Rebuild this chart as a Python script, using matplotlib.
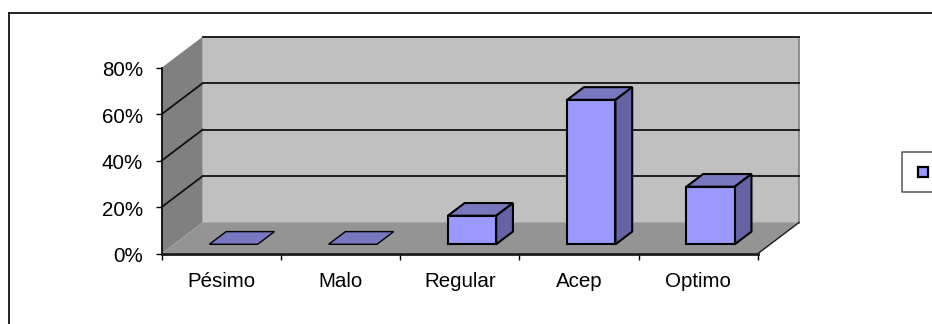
import matplotlib
matplotlib.use("Agg")
import matplotlib.pyplot as plt
from matplotlib.lines import Line2D
from matplotlib.patches import Polygon, Rectangle
from matplotlib.ticker import PercentFormatter
from matplotlib.transforms import ScaledTranslation

plt.rcParams["font.family"] = ["Liberation Sans", "DejaVu Sans"]

# Survey results
categories = ["Pésimo", "Malo", "Regular", "Acep", "Optimo"]
values = [0, 0, 12.3, 62.2, 24.8]
y_ticks = [0, 20, 40, 60, 80]

W, H = 932, 324
fig = plt.figure(figsize=(W / 100, H / 100), dpi=100, facecolor="white")
ax = fig.add_axes([161.7 / W, 1 - 253.5 / H, 596.3 / W, 185.8 / H])
ax.set_xlim(0, len(categories))
ax.set_ylim(0, 80)
ax.patch.set_visible(False)

# Oblique projection: depth 0 is the front plane, depth 1 the back wall
DEPTH_X = 41 / (596.3 / 5)
DEPTH_Y = 31 / (185.8 / 80)


def pt(x, y, d=0.0):
    return (x + d * DEPTH_X, y + d * DEPTH_Y)


def face(points, color, edge="none", lw=0.0, z=1):
    ax.add_patch(Polygon([pt(*p) for p in points], closed=True, facecolor=color,
                         edgecolor=edge, linewidth=lw, clip_on=False, zorder=z,
                         joinstyle="miter"))


n = len(categories)
top = y_ticks[-1]

# walls and floor
face([(0, 0, 1), (n, 0, 1), (n, top, 1), (0, top, 1)], "#c0c0c0", z=1)
face([(0, 0, 0), (0, 0, 1), (0, top, 1), (0, top, 0)], "#808080", z=1)
face([(0, 0, 0), (n, 0, 0), (n, 0, 1), (0, 0, 1)], "#949494", z=1)
ax.plot(*zip(pt(n, 0, 1), pt(n, top, 1)), color="#808080", lw=1.2, clip_on=False, zorder=2)
ax.plot(*zip(pt(n, 0, 0), pt(n, 0, 1)), color="#1a1a1a", lw=1.0, clip_on=False, zorder=2)

# gridlines on the back wall and side wall
for v in y_ticks[1:]:
    ax.plot(*zip(pt(n, v, 1), pt(0, v, 1)), color="#111111", lw=1.3, clip_on=False, zorder=2)
    if v != top:
        ax.plot(*zip(pt(0, v, 1), pt(0, v, 0)), color="#111111", lw=1.3, clip_on=False, zorder=2)

# bars
BAR_W = 0.405
D0, D1 = 0.297, 0.706
for i, v in enumerate(values):
    x0 = i + 0.5 - BAR_W / 2
    x1 = x0 + BAR_W
    lw = 1.5 if v > 0 else 1.0
    face([(x0, v, D0), (x1, v, D0), (x1, v, D1), (x0, v, D1)], "#7878c0", "black", lw, 3)
    if v > 0:
        face([(x1, 0, D0), (x1, 0, D1), (x1, v, D1), (x1, v, D0)], "#6363a5", "black", lw, 3)
        face([(x0, 0, D0), (x1, 0, D0), (x1, v, D0), (x0, v, D0)], "#9999ff", "black", lw, 4)

# axes
for side in ["top", "right"]:
    ax.spines[side].set_visible(False)
ax.spines["left"].set_linewidth(1.2)
ax.spines["left"].set_zorder(5)
ax.spines["bottom"].set_linewidth(2.0)
ax.spines["bottom"].set_color("#1a1a1a")
ax.spines["bottom"].set_zorder(5)

ax.set_yticks(y_ticks)
ax.yaxis.set_major_formatter(PercentFormatter(decimals=0))
ax.tick_params(axis="y", length=4.5, width=1.0, pad=9, labelsize=14.8, labelcolor="black")
# nudge the percent labels down a little from their ticks
nudge = ScaledTranslation(0, -1 / 100, fig.dpi_scale_trans)
for label in ax.get_yticklabels():
    label.set_transform(label.get_transform() + nudge)
ax.set_xticks(range(n + 1))
ax.set_xticklabels([])
ax.tick_params(axis="x", which="major", length=4.5, width=1.0)
ax.set_xticks([i + 0.5 for i in range(n)], minor=True)
ax.set_xticklabels(categories, minor=True, fontsize=14.8)
ax.tick_params(axis="x", which="minor", length=0, pad=13)


def fx(px):
    return px / W


def fy(py):
    return 1 - py / H


# outer chart frame, running off the right and bottom of the figure
fig.add_artist(Line2D([fx(8.5), fx(8.5)], [fy(H), fy(12.5)], color="black", lw=1.2))
fig.add_artist(Line2D([fx(8.5), fx(W)], [fy(12.5), fy(12.5)], color="black", lw=1.2))

# legend box with its key
fig.add_artist(Line2D([fx(W), fx(901.5), fx(901.5), fx(W)],
                      [fy(151.5), fy(151.5), fy(191.5), fy(191.5)],
                      color="#555555", lw=1.1))
fig.add_artist(Rectangle((fx(917.5), fy(176.7)), 10 / W, 10 / H, transform=fig.transFigure,
                         facecolor="#9999ff", edgecolor="black", linewidth=1.6))

fig.savefig("out.png", dpi=100)
